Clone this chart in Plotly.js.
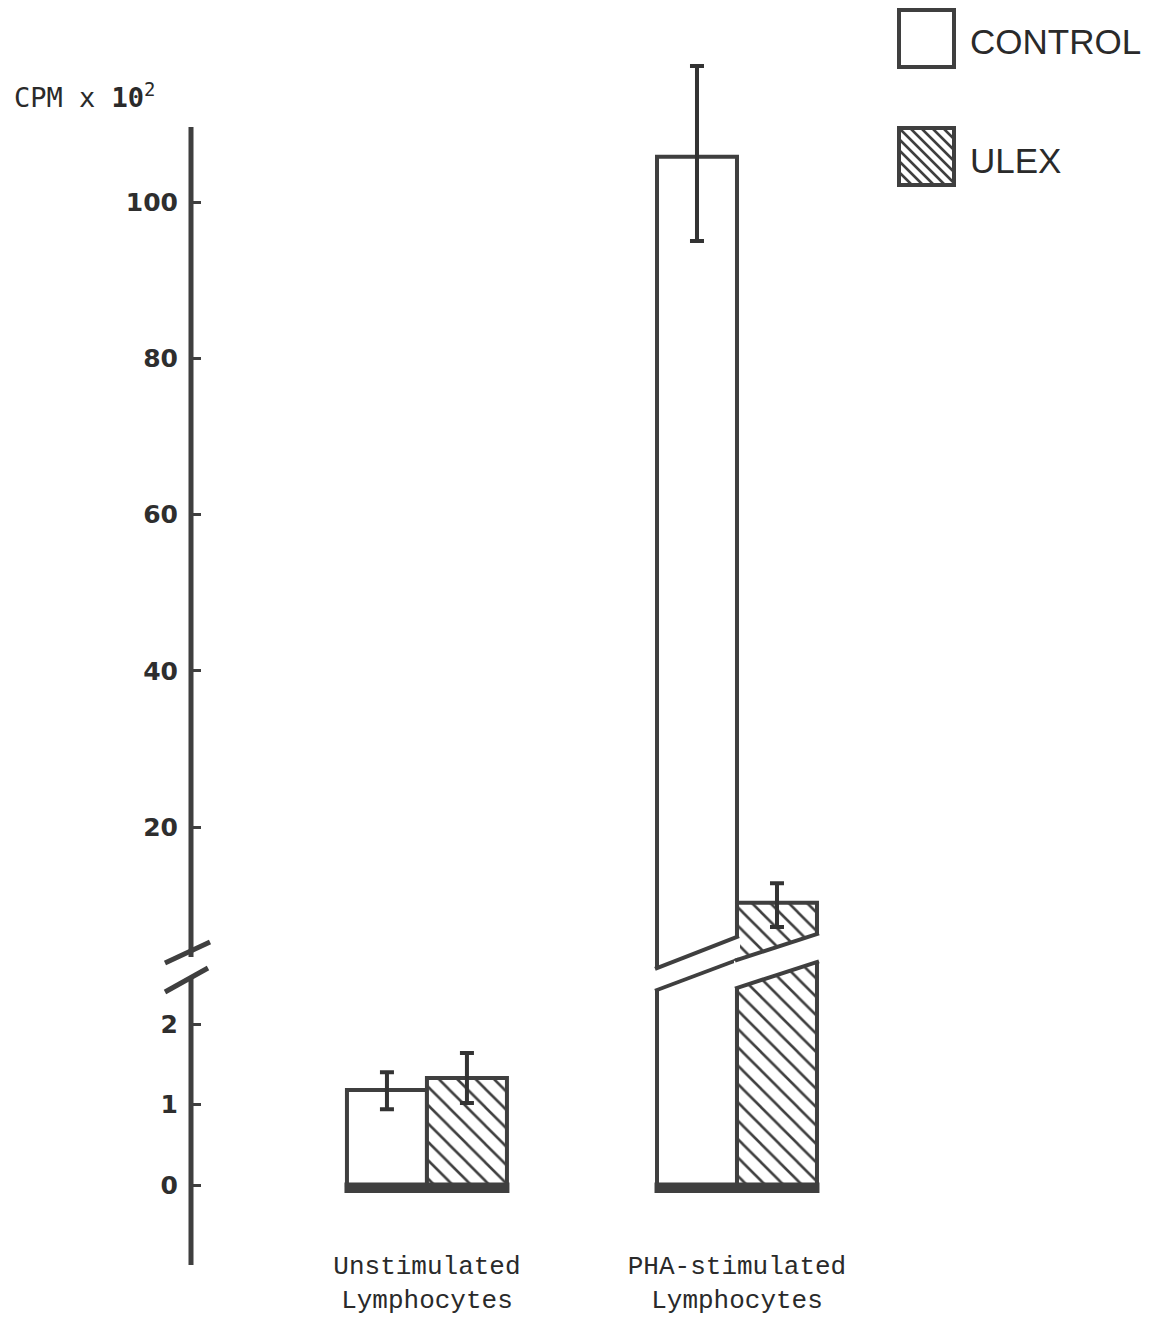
<!DOCTYPE html>
<html>
<head>
<meta charset="utf-8">
<script src="https://cdn.plot.ly/plotly-3.0.1.min.js"></script>
<style>html,body{margin:0;padding:0;background:#fff;}#chart{width:1154px;height:1322px;}</style>
</head>
<body>
<div id="chart"></div>
<script>
// ---- data (CPM x 10^2) ----
const categories = ['Unstimulated<br>Lymphocytes', 'PHA-stimulated<br>Lymphocytes'];
const controlMean = [1.18, 105.8];
const controlErrPlus = [0.22, 11.6];
const controlErrMinus = [0.24, 10.8];
const ulexMean = [1.33, 10.3];
const ulexErrPlus = [0.31, 2.5];
const ulexErrMinus = [0.31, 3.1];
const lowerTicks = [0, 1, 2];
const upperTicks = [20, 40, 60, 80, 100];
const seriesNames = ['CONTROL', 'ULEX'];
const yTitle = 'CPM x <b>10</b><sup>2</sup>';
const BREAK_VALUE = 3; // values above this are drawn in the upper segment

// ---- layout geometry ----
const W = 1154, H = 1322;
const PL = 191, PR = 0, PT = 0, PB = 82;
const PW = W - PL - PR, PH = H - PT - PB;
const px = x => (x - PL) / PW;
const py = y => (PT + PH - y) / PH;
const BW = 0.258;      // bar width (category units)
const INK = '#3f3f3f';

// lower segment: 0 at pixel 1185, 80.5 px per unit; upper segment: 100 at pixel 202, 7.8125 px per unit
const lowVal = p => (1185 - p) / 80.5;
const upVal = p => 100 + (202 - p) / 7.8125;
const LOWER_TOP = 960, UPPER_TOP = 48, CTRL_UPPER_BOTTOM = 978, ULEX_UPPER_BOTTOM = 960;

const hatch = {shape: '\\', size: 13, solidity: 0.2, fgcolor: INK, bgcolor: '#fff', fillmode: 'replace'};

function barTrace(name, vals, ep, em, yaxis, offset, pattern) {
  const t = {
    type: 'bar', name: name, x: categories, y: vals, yaxis: yaxis,
    offset: offset, width: BW, cliponaxis: true, showlegend: false,
    marker: {color: '#fff', line: {color: INK, width: 4}},
    error_y: {type: 'data', symmetric: false, array: ep, arrayminus: em,
              color: '#333', thickness: 4, width: 7}
  };
  if (pattern) t.marker.pattern = pattern;
  return t;
}
const upperOnly = arr => arr.map(v => v > BREAK_VALUE ? v : null);

const traces = [
  barTrace(seriesNames[0], controlMean, controlErrPlus, controlErrMinus, 'y', -BW, null),
  barTrace(seriesNames[1], ulexMean, ulexErrPlus, ulexErrMinus, 'y', 0, hatch),
  barTrace(seriesNames[0], upperOnly(controlMean), controlErrPlus, controlErrMinus, 'y2', -BW, null),
  barTrace(seriesNames[1], upperOnly(ulexMean), ulexErrPlus, ulexErrMinus, 'y3', 0, hatch)
];

const shapes = [];
// y-axis lines with break marks
shapes.push({type: 'line', xref: 'paper', yref: 'paper', x0: 0, x1: 0, y0: py(127), y1: py(957), line: {color: INK, width: 5}});
shapes.push({type: 'line', xref: 'paper', yref: 'paper', x0: 0, x1: 0, y0: py(978), y1: py(1265), line: {color: INK, width: 5}});
shapes.push({type: 'line', xref: 'paper', yref: 'paper', x0: px(165), x1: px(210), y0: py(963), y1: py(942), line: {color: INK, width: 5}});
shapes.push({type: 'line', xref: 'paper', yref: 'paper', x0: px(165), x1: px(208), y0: py(992), y1: py(968), line: {color: INK, width: 5}});

// thick baselines under each group
categories.forEach((c, i) => {
  shapes.push({type: 'rect', xref: 'x', yref: 'y', x0: i - BW - 0.008, x1: i + BW + 0.008, y0: -0.10, y1: 0.03,
               fillcolor: INK, line: {width: 0}});
});

// break bands across the PHA bars (slanted white gaps), pixel y at left/right bar edges
const breakCat = 1;
const bands = [
  {x0: breakCat - BW, x1: breakCat, top: [968, 937], bot: [990, 960]},
  {x0: breakCat, x1: breakCat + BW, top: [960, 934], bot: [988, 962]}
];
const xPerPx = 1 / 310;
bands.forEach(b => {
  const e = 3 * xPerPx;
  const lin = (pair, x) => pair[0] + (pair[1] - pair[0]) * (x - b.x0) / (b.x1 - b.x0);
  const xa = b.x0 - e, xb = b.x1 + e;
  const path = 'M' + xa + ',' + py(lin(b.top, xa)) + ' L' + xb + ',' + py(lin(b.top, xb)) +
               ' L' + xb + ',' + py(lin(b.bot, xb)) + ' L' + xa + ',' + py(lin(b.bot, xa)) + ' Z';
  shapes.push({type: 'path', xref: 'x', yref: 'paper', path: path, fillcolor: '#fff', line: {width: 0}});
  const d = 2 * xPerPx;
  ['top', 'bot'].forEach(k => {
    shapes.push({type: 'line', xref: 'x', yref: 'paper', x0: b.x0 - d, x1: b.x1 + d,
                 y0: py(lin(b[k], b.x0 - d)), y1: py(lin(b[k], b.x1 + d)), line: {color: INK, width: 4}});
  });
});

// legend swatches
const lg = [{x0: 899, x1: 954, y0: 10, y1: 67}, {x0: 899, x1: 954, y0: 128, y1: 185}];
lg.forEach((b, i) => {
  if (i === 1) {
    let p = '';
    for (let c = b.y0 - b.x1; c < b.y1 - b.x0; c += 11) {
      const xs = Math.max(b.x0, b.y0 - c), xe = Math.min(b.x1, b.y1 - c);
      if (xe - xs > 1) p += 'M' + px(xs) + ',' + py(xs + c) + ' L' + px(xe) + ',' + py(xe + c) + ' ';
    }
    shapes.push({type: 'path', xref: 'paper', yref: 'paper', path: p, line: {color: INK, width: 2.5}});
  }
  shapes.push({type: 'rect', xref: 'paper', yref: 'paper', x0: px(b.x0), x1: px(b.x1), y0: py(b.y1), y1: py(b.y0),
               line: {color: INK, width: 4}, fillcolor: 'rgba(0,0,0,0)'});
});

const annotations = [
  {xref: 'paper', yref: 'paper', x: px(968), y: py(42), xanchor: 'left', yanchor: 'middle', showarrow: false,
   text: seriesNames[0], font: {family: 'Liberation Sans, Arial, sans-serif', size: 35, color: '#2a2a2a'}},
  {xref: 'paper', yref: 'paper', x: px(968), y: py(160), xanchor: 'left', yanchor: 'middle', showarrow: false,
   text: seriesNames[1], font: {family: 'Liberation Sans, Arial, sans-serif', size: 35, color: '#2a2a2a'}},
  {xref: 'paper', yref: 'paper', x: px(12), y: py(96), xanchor: 'left', yanchor: 'middle', showarrow: false,
   text: yTitle, font: {family: 'DejaVu Sans Mono, monospace', size: 27, color: '#2a2a2a'}}
];

const tickFont = {family: 'DejaVu Sans, sans-serif', size: 25, weight: 'bold', color: '#2e2e2e'};
const yCommon = {anchor: 'x', showline: false, showgrid: false, zeroline: false, tickmode: 'array',
                 ticks: 'inside', ticklen: 10, tickwidth: 3, tickcolor: INK, ticklabelstandoff: 12, tickfont: tickFont};
const layout = {
  width: W, height: H,
  margin: {l: PL, r: PR, t: PT, b: PB, pad: 0},
  paper_bgcolor: '#fff', plot_bgcolor: 'rgba(0,0,0,0)',
  barmode: 'overlay', showlegend: false,
  xaxis: {type: 'category', range: [-0.761, 2.345], anchor: 'y', showline: false, showgrid: false, zeroline: false,
          ticks: '', ticklabelstandoff: 7,
          tickfont: {family: 'Liberation Mono, Courier New, monospace', size: 26, color: '#2a2a2a'}},
  yaxis: Object.assign({}, yCommon, {domain: [0, py(LOWER_TOP)], range: [lowVal(PT + PH), lowVal(LOWER_TOP)],
          tickvals: lowerTicks, ticktext: lowerTicks.map(String)}),
  yaxis2: Object.assign({}, yCommon, {domain: [py(CTRL_UPPER_BOTTOM), py(UPPER_TOP)],
          range: [upVal(CTRL_UPPER_BOTTOM), upVal(UPPER_TOP)],
          tickvals: upperTicks, ticktext: upperTicks.map(String)}),
  yaxis3: {anchor: 'x', visible: false, showgrid: false, zeroline: false,
           domain: [py(ULEX_UPPER_BOTTOM), py(UPPER_TOP)], range: [upVal(ULEX_UPPER_BOTTOM), upVal(UPPER_TOP)]},
  shapes: shapes,
  annotations: annotations
};

Plotly.newPlot('chart', traces, layout, {displayModeBar: false, staticPlot: true});
</script>
</body>
</html>
